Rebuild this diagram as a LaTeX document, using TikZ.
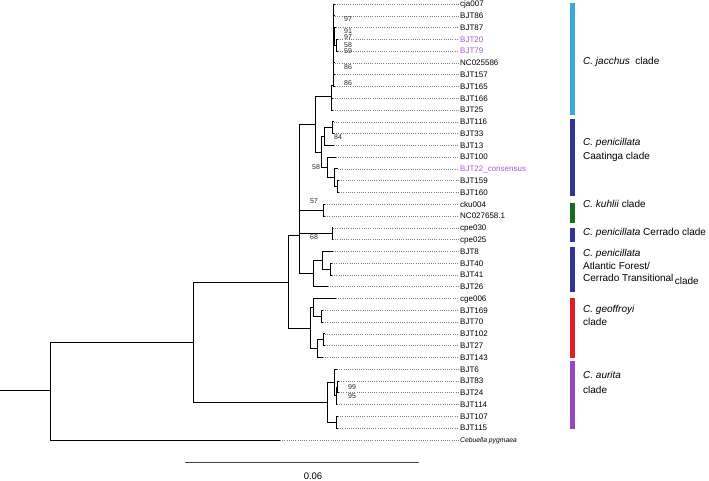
\documentclass[tikz,border=0pt]{standalone}
\usepackage{fontspec}
\setmainfont{Liberation Sans}
\definecolor{jaccol}{RGB}{60,170,214}
\definecolor{pencol}{RGB}{48,52,150}
\definecolor{kuhcol}{RGB}{24,108,32}
\definecolor{geocol}{RGB}{220,32,38}
\definecolor{aurcol}{RGB}{152,70,200}
\definecolor{hilite}{RGB}{172,88,212}
\tikzset{
  branch/.style={line width=0.8pt},
  leafdots/.style={gray, line width=0.5pt, dash pattern=on 1pt off 1.2pt},
  leaflab/.style={anchor=west, inner sep=1pt, font=\fontsize{8}{9}\selectfont,
    text height=5.7pt, text depth=0pt},
  boot/.style={inner sep=0pt, font=\fontsize{7}{8}\selectfont, text=black!85,
    text height=5pt, text depth=0pt},
  cladebar/.style={line width=5pt},
  cladelab/.style={anchor=west, inner sep=0pt, font=\fontsize{10}{12}\selectfont,
    text height=7.2pt, text depth=0pt},
}
\begin{document}
\begin{tikzpicture}[x=1pt,y=-1pt]
\useasboundingbox (0,0) rectangle (709,481);

% leaf tips, dotted guides and names
\foreach \n/\x/\y/\t/\c in {
  cja007/335/4.0/cja007/black,
  bjt86/335/15.8/BJT86/black,
  bjt87/336/27.6/BJT87/black,
  bjt20/338/39.3/BJT20/hilite,
  bjt79/338/51.1/BJT79/hilite,
  nc025586/335/62.9/NC025586/black,
  bjt157/335/74.7/BJT157/black,
  bjt165/335/86.5/BJT165/black,
  bjt166/333/98.2/BJT166/black,
  bjt25/333/110.0/BJT25/black,
  bjt116/334/121.8/BJT116/black,
  bjt33/334/133.6/BJT33/black,
  bjt13/334/145.4/BJT13/black,
  bjt100/336/157.1/BJT100/black,
  bjt22/338/168.9/BJT22\_consensus/hilite,
  bjt159/339/180.7/BJT159/black,
  bjt160/339/192.5/BJT160/black,
  cku004/325/204.3/cku004/black,
  nc027658/325/216.0/NC027658.1/black,
  cpe030/333/227.8/cpe030/black,
  cpe025/333/239.6/cpe025/black,
  bjt8/333/251.4/BJT8/black,
  bjt40/332/263.2/BJT40/black,
  bjt41/332/274.9/BJT41/black,
  bjt26/328/286.7/BJT26/black,
  cge006/336/298.5/cge006/black,
  bjt169/323/310.3/BJT169/black,
  bjt70/323/322.1/BJT70/black,
  bjt102/325/333.8/BJT102/black,
  bjt27/325/345.6/BJT27/black,
  bjt143/323/357.4/BJT143/black,
  bjt6/337/369.2/BJT6/black,
  bjt83/339/381.0/BJT83/black,
  bjt24/339/392.7/BJT24/black,
  bjt114/337/404.5/BJT114/black,
  bjt107/338/416.3/BJT107/black,
  bjt115/338/428.1/BJT115/black}
{
  \coordinate (\n) at (\x,\y);
  \node[leaflab, text=\c] (l-\n) at (459,\y) {\t};
  \draw[leafdots] (\n) -- (l-\n.west);
}
\coordinate (cebuella) at (280,439.9);
\node[leaflab, font=\fontsize{6.8}{8}\selectfont\itshape, text height=4.8pt] (l-cebuella) at (459,439.9) {Cebuella pygmaea};
\draw[leafdots] (cebuella) -- (l-cebuella.west);

% internal nodes
\coordinate (J3) at (336,45.2);
\coordinate (J2) at (334.5,36.4);
\coordinate (J1) at (333,85);
\coordinate (J) at (331,96);
\coordinate (B2) at (332,127.7);
\coordinate (B1) at (324,136.6);
\coordinate (C3) at (337,186.6);
\coordinate (C2) at (334,177.7);
\coordinate (C1) at (327,167.4);
\coordinate (C) at (321,152);
\coordinate (JC) at (315,124);
\coordinate (K) at (323,210.2);
\coordinate (P) at (332,233.7);
\coordinate (A2) at (330,269);
\coordinate (A1) at (322,260.2);
\coordinate (A) at (313,273.5);
\coordinate (Pen) at (299,235);
\coordinate (G1a) at (321,316.2);
\coordinate (G1) at (313,307.4);
\coordinate (G2a) at (323,339.7);
\coordinate (G2) at (317,348.5);
\coordinate (G) at (310,328);
\coordinate (Big) at (288,282);
\coordinate (Au1b) at (337.5,386.9);
\coordinate (Au1c) at (336,395.7);
\coordinate (Au1) at (334.5,382.5);
\coordinate (Au2) at (336,422.2);
\coordinate (Au) at (327,402);
\coordinate (Mid) at (193,342);
\coordinate (R) at (50,390);
\coordinate (root) at (0,390);

% branches
\draw[branch] (J3) |- (bjt20) (J3) |- (bjt79)
  (J2) |- (bjt87) (J2) |- (J3)
  (J1) |- (cja007) (J1) |- (bjt86) (J1) |- (J2)
  (J1) |- (nc025586) (J1) |- (bjt157) (J1) |- (bjt165)
  (J) |- (J1) (J) |- (bjt166) (J) |- (bjt25)
  (B2) |- (bjt116) (B2) |- (bjt33)
  (B1) |- (B2) (B1) |- (bjt13)
  (C3) |- (bjt159) (C3) |- (bjt160)
  (C2) |- (bjt22) (C2) |- (C3)
  (C1) |- (bjt100) (C1) |- (C2)
  (C) |- (B1) (C) |- (C1)
  (JC) |- (J) (JC) |- (C)
  (K) |- (cku004) (K) |- (nc027658)
  (P) |- (cpe030) (P) |- (cpe025)
  (A2) |- (bjt40) (A2) |- (bjt41)
  (A1) |- (bjt8) (A1) |- (A2)
  (A) |- (A1) (A) |- (bjt26)
  (Pen) |- (JC) (Pen) |- (K) (Pen) |- (P) (Pen) |- (A)
  (G1a) |- (bjt169) (G1a) |- (bjt70)
  (G1) |- (cge006) (G1) |- (G1a)
  (G2a) |- (bjt102) (G2a) |- (bjt27)
  (G2) |- (G2a) (G2) |- (bjt143)
  (G) |- (G1) (G) |- (G2)
  (Big) |- (Pen) (Big) |- (G)
  (Au1b) |- (bjt83) (Au1b) |- (bjt24)
  (Au1c) |- (Au1b) (Au1c) |- (bjt114)
  (Au1) |- (bjt6) (Au1) |- (Au1c)
  (Au2) |- (bjt107) (Au2) |- (bjt115)
  (Au) |- (Au1) (Au) |- (Au2)
  (Mid) |- (Big) (Mid) |- (Au)
  (R) |- (Mid) (R) |- (cebuella);
\draw[branch] (root) -- (R);

% bootstrap values
\node[boot] (bs1) at (348,19) {97};
\node[boot] (bs2) at (348,31) {91};
\node[boot] (bs3) at (348,37.5) {97};
\node[boot] (bs4) at (348,45) {58};
\node[boot] (bs5) at (348,51.5) {59};
\node[boot] (bs6) at (348,67) {86};
\node[boot] (bs7) at (348,83) {86};
\node[boot] (bs8) at (338,137) {84};
\node[boot] (bs9) at (316,167) {58};
\node[boot] (bs10) at (314,201) {57};
\node[boot] (bs11) at (314,237) {68};
\node[boot] (bs12) at (352,387) {99};
\node[boot] (bs13) at (352,396) {95};

% clade bars and names
\draw[cladebar, jaccol] (572.5,3) -- (572.5,115);
\draw[cladebar, pencol] (572.5,119) -- (572.5,196);
\draw[cladebar, kuhcol] (572.5,203) -- (572.5,223);
\draw[cladebar, pencol] (572.5,228) -- (572.5,242);
\draw[cladebar, pencol] (572.5,247) -- (572.5,292);
\draw[cladebar, geocol] (572.5,298) -- (572.5,358);
\draw[cladebar, aurcol] (572.5,361) -- (572.5,429);
\node[cladelab] (jac) at (583,61) {\itshape C. jacchus\/\ \ \upshape clade};
\node[cladelab] (caa1) at (583,142) {\itshape C. penicillata};
\node[cladelab] (caa2) at (583,156) {Caatinga clade};
\node[cladelab] (kuh) at (583,204) {\itshape C. kuhlii\/\ \upshape clade};
\node[cladelab] (cer) at (583,232) {\itshape C. penicillata\/\ \upshape Cerrado clade};
\node[cladelab] (atl1) at (583,253) {\itshape C. penicillata};
\node[cladelab] (atl2) at (583,266) {Atlantic Forest/};
\node[cladelab] (atl3) at (583,278) {Cerrado Transitional};
\node[cladelab] (atl4) at ([xshift=1pt,yshift=-2.5pt]atl3.east) {clade};
\node[cladelab] (geo1) at (583,309) {\itshape C. geoffroyi};
\node[cladelab] (geo2) at (583,322) {clade};
\node[cladelab] (aur1) at (583,375) {\itshape C. aurita};
\node[cladelab] (aur2) at (583,390) {clade};

% scale bar
\coordinate (sbl) at (185,462);
\coordinate (sbr) at (419,462);
\draw[line width=0.9pt, black!75] (sbl) -- (sbr);
\node[inner sep=0pt, font=\fontsize{9.5}{11}\selectfont] (sblab) at (313,476) {0.06};
\end{tikzpicture}
\end{document}
